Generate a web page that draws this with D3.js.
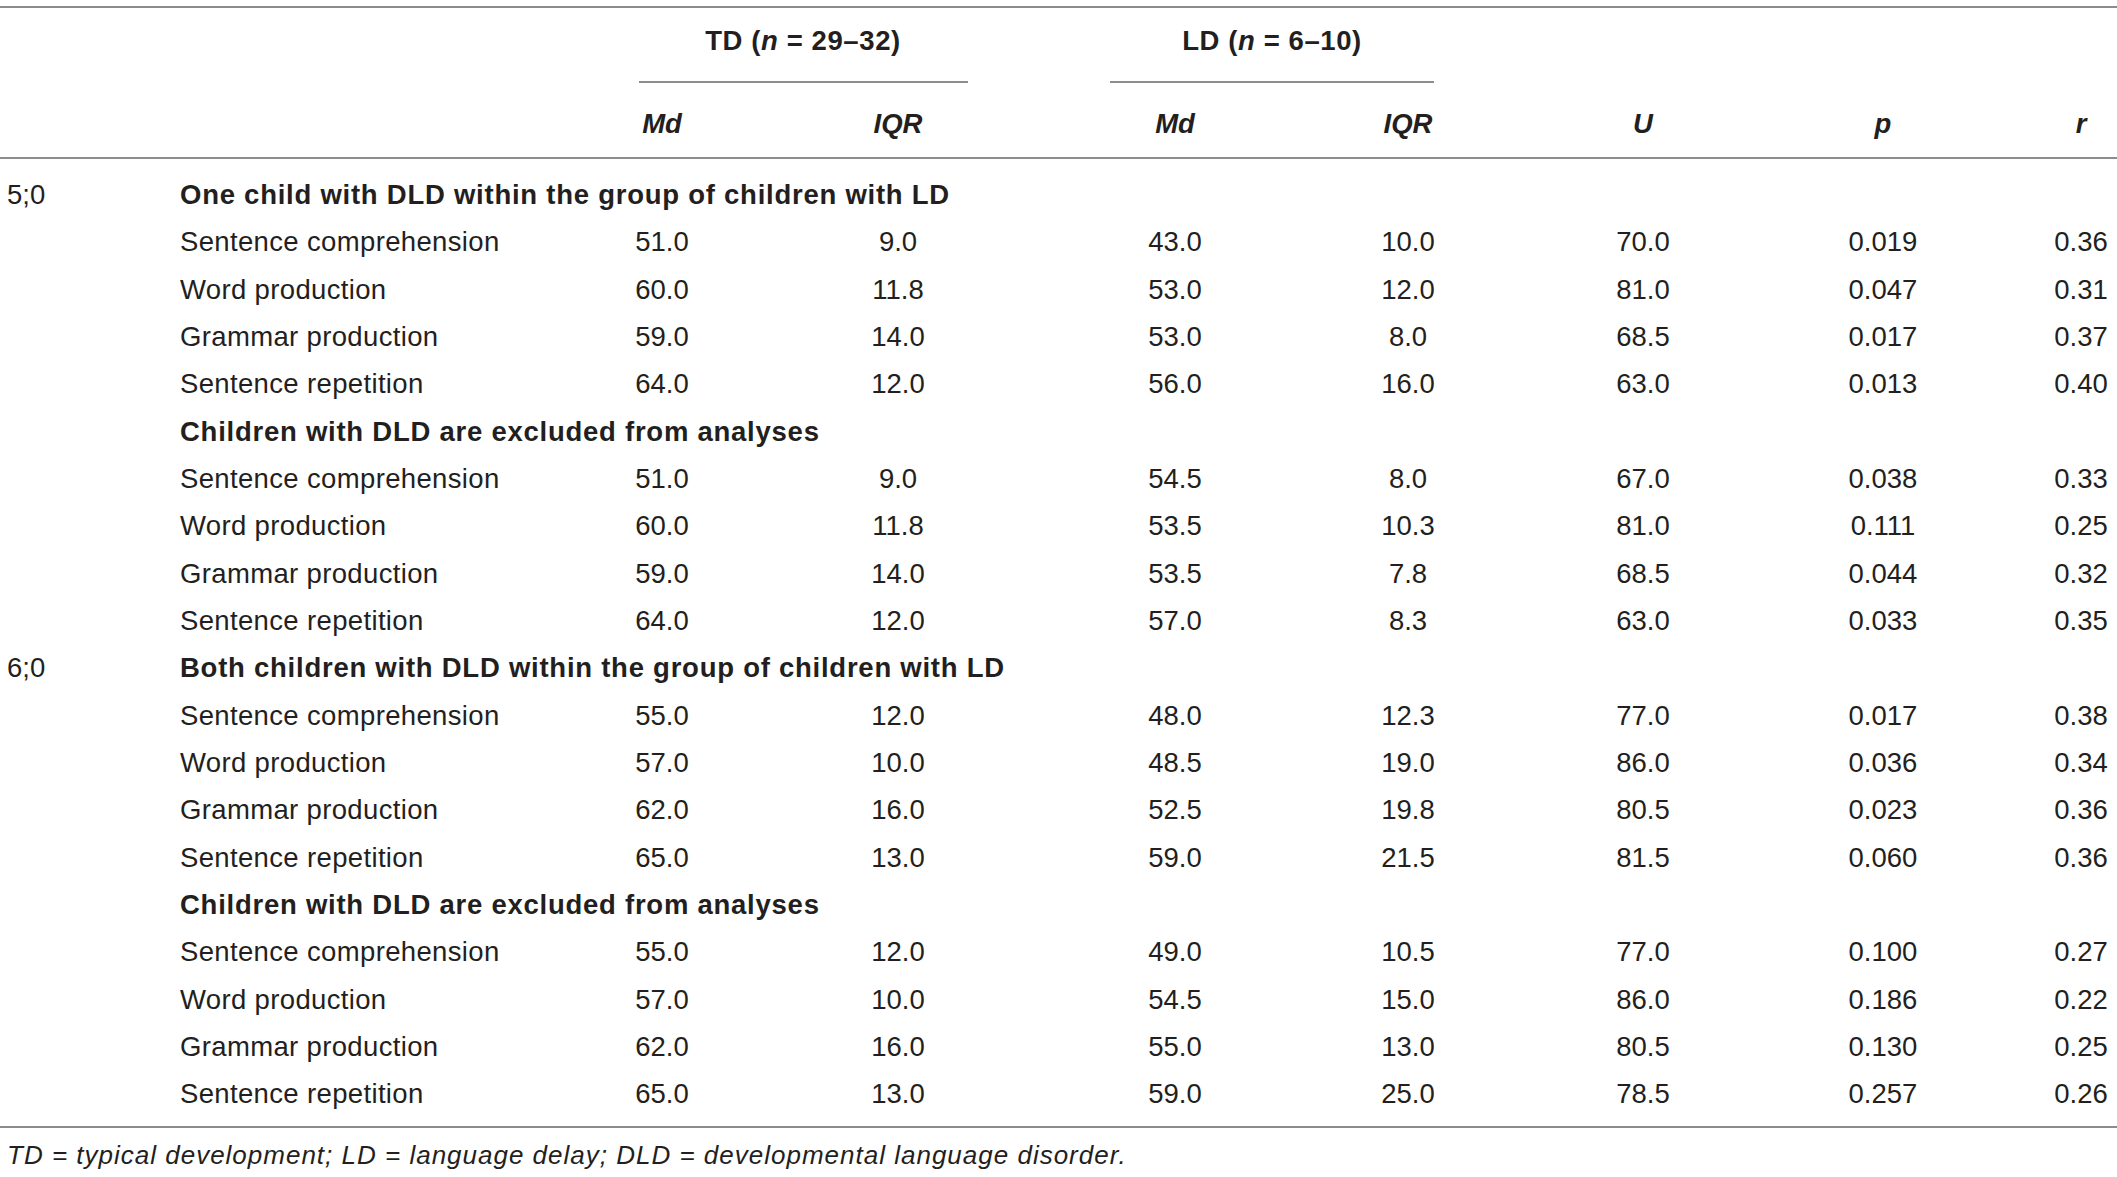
<!DOCTYPE html>
<html>
<head>
<meta charset="utf-8">
<script src="https://cdn.jsdelivr.net/npm/d3@7"></script>
<style>
  body { margin: 0; background: #fff; }
  text { font-family: "Liberation Sans", Arial, sans-serif; fill: #231f20; }
</style>
</head>
<body>
<div id="svg-container"></div>
<script>
var width = 2117, height = 1177;

// table content
var ages = ["5;0", "6;0"];
var groupTitles = [
  "One child with DLD within the group of children with LD",
  "Children with DLD are excluded from analyses",
  "Both children with DLD within the group of children with LD",
  "Children with DLD are excluded from analyses"
];
var measures = ["Sentence comprehension", "Word production", "Grammar production", "Sentence repetition"];
var colHeads = ["Md", "IQR", "Md", "IQR", "U", "p", "r"];

var tdMd  = [51.0, 60.0, 59.0, 64.0, 51.0, 60.0, 59.0, 64.0, 55.0, 57.0, 62.0, 65.0, 55.0, 57.0, 62.0, 65.0];
var tdIqr = [9.0, 11.8, 14.0, 12.0, 9.0, 11.8, 14.0, 12.0, 12.0, 10.0, 16.0, 13.0, 12.0, 10.0, 16.0, 13.0];
var ldMd  = [43.0, 53.0, 53.0, 56.0, 54.5, 53.5, 53.5, 57.0, 48.0, 48.5, 52.5, 59.0, 49.0, 54.5, 55.0, 59.0];
var ldIqr = [10.0, 12.0, 8.0, 16.0, 8.0, 10.3, 7.8, 8.3, 12.3, 19.0, 19.8, 21.5, 10.5, 15.0, 13.0, 25.0];
var uVals = [70.0, 81.0, 68.5, 63.0, 67.0, 81.0, 68.5, 63.0, 77.0, 86.0, 80.5, 81.5, 77.0, 86.0, 80.5, 78.5];
var pVals = [0.019, 0.047, 0.017, 0.013, 0.038, 0.111, 0.044, 0.033, 0.017, 0.036, 0.023, 0.060, 0.100, 0.186, 0.130, 0.257];
var rVals = [0.36, 0.31, 0.37, 0.40, 0.33, 0.25, 0.32, 0.35, 0.38, 0.34, 0.36, 0.36, 0.27, 0.22, 0.25, 0.26];

var fs = 27.5;
var lineColor = "#8c8c8c";

var svg = d3.select("#svg-container")
            .append("svg")
            .attr("width", width)
            .attr("height", height);

// column centres
var colX = d3.scaleOrdinal()
             .domain(d3.range(7))
             .range([662, 898, 1175, 1408, 1643, 1883, 2081]);

// body rows: 20 rows (4 group titles + 16 measures)
var rowY = d3.scaleLinear()
             .domain([0, 19])
             .range([194, 1093.5]);

var f1 = d3.format(".1f"), f2 = d3.format(".2f"), f3 = d3.format(".3f");

// build the row list
var rows = [];
var k = 0;
groupTitles.forEach(function(t, g) {
  rows.push({ type: "title", text: t, age: g % 2 === 0 ? ages[g / 2] : null });
  measures.forEach(function(m) {
    rows.push({ type: "data", text: m,
      vals: [f1(tdMd[k]), f1(tdIqr[k]), f1(ldMd[k]), f1(ldIqr[k]), f1(uVals[k]), f3(pVals[k]), f2(rVals[k])] });
    k++;
  });
});

// rules
function hline(y, x1, x2) {
  svg.append("line")
     .attr("x1", x1).attr("x2", x2)
     .attr("y1", y).attr("y2", y)
     .attr("stroke", lineColor)
     .attr("stroke-width", 2);
}
hline(7, 0, width);
hline(158, 0, width);
hline(1127, 0, width);
hline(82, 639, 968);
hline(82, 1110, 1434);

// spanner headings
function spanner(label, range, cx) {
  var t = svg.append("text")
             .attr("x", cx)
             .attr("y", 40.5)
             .attr("dy", "0.36em")
             .attr("text-anchor", "middle")
             .style("font-size", fs + "px")
             .style("font-weight", "bold")
             .style("letter-spacing", "0.6px");
  t.append("tspan").text(label + " (");
  t.append("tspan").style("font-style", "italic").text("n");
  t.append("tspan").text(" = " + range + ")");
}
spanner("TD", "29–32", 803);
spanner("LD", "6–10", 1272);

// column headings
svg.append("g")
   .selectAll("text")
   .data(colHeads)
   .enter()
   .append("text")
   .attr("x", function(d, i) { return colX(i); })
   .attr("y", 123)
   .attr("dy", "0.36em")
   .attr("text-anchor", "middle")
   .style("font-size", fs + "px")
   .style("font-weight", "bold")
   .style("font-style", "italic")
   .text(function(d) { return d; });

// body
var body = svg.append("g");

body.selectAll(".age")
    .data(rows.filter(function(d) { return d.age; }))
    .enter()
    .append("text")
    .attr("class", "age")
    .attr("x", 7)
    .attr("y", function(d) { return rowY(rows.indexOf(d)); })
    .attr("dy", "0.36em")
    .style("font-size", fs + "px")
    .text(function(d) { return d.age; });

body.selectAll(".label")
    .data(rows)
    .enter()
    .append("text")
    .attr("class", "label")
    .attr("x", 180)
    .attr("y", function(d, i) { return rowY(i); })
    .attr("dy", "0.36em")
    .style("font-size", fs + "px")
    .style("font-weight", function(d) { return d.type === "title" ? "bold" : "normal"; })
    .style("letter-spacing", function(d) { return d.type === "title" ? "0.75px" : "0.35px"; })
    .text(function(d) { return d.text; });

rows.forEach(function(d, i) {
  if (d.type !== "data") return;
  body.append("g")
      .selectAll("text")
      .data(d.vals)
      .enter()
      .append("text")
      .attr("x", function(v, j) { return colX(j); })
      .attr("y", rowY(i))
      .attr("dy", "0.36em")
      .attr("text-anchor", "middle")
      .style("font-size", fs + "px")
      .text(function(v) { return v; });
});

// footnote
svg.append("text")
   .attr("x", 7)
   .attr("y", 1155)
   .attr("dy", "0.36em")
   .style("font-size", "26px")
   .style("font-style", "italic")
   .style("letter-spacing", "1px")
   .text("TD = typical development; LD = language delay; DLD = developmental language disorder.");
</script>
</body>
</html>
